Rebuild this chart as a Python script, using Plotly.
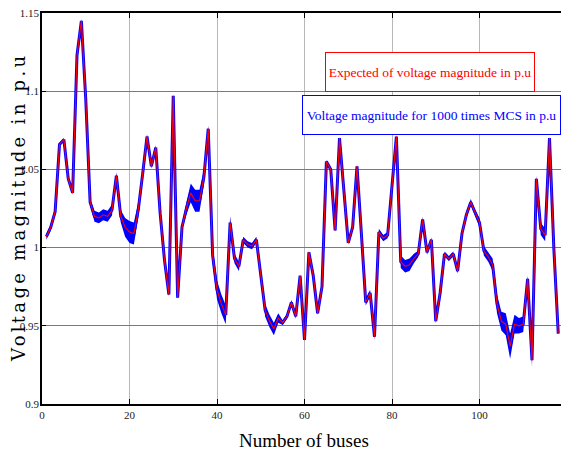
import plotly.graph_objects as go

# ---------------- data ----------------
buses = list(range(1, 119))

expected = [
    1.007, 1.013, 1.023, 1.066, 1.069, 1.044, 1.035, 1.123, 1.145, 1.095,   # 1-10
    1.029, 1.020, 1.019, 1.021, 1.020, 1.024, 1.046, 1.020, 1.013, 1.010,   # 11-20
    1.009, 1.024, 1.047, 1.071, 1.052, 1.064, 1.022, 0.992, 0.970, 1.097,   # 21-30
    0.968, 1.013, 1.025, 1.035, 1.030, 1.030, 1.045, 1.076, 0.995, 0.973,   # 31-40
    0.964, 0.957, 1.016, 0.993, 0.988, 1.005, 1.002, 1.001, 1.005, 0.984,   # 41-50
    0.960, 0.953, 0.948, 0.955, 0.952, 0.956, 0.965, 0.956, 0.982, 0.941,   # 51-60
    0.997, 0.982, 0.958, 0.975, 1.055, 1.050, 1.011, 1.070, 1.039, 1.003,   # 61-70
    1.013, 1.052, 1.009, 0.965, 0.971, 0.943, 1.010, 1.006, 1.008, 1.040,   # 71-80
    1.071, 0.991, 0.988, 0.989, 0.993, 0.996, 1.018, 0.997, 1.005, 0.953,   # 81-90
    0.971, 0.996, 0.993, 0.996, 0.985, 1.009, 1.021, 1.029, 1.022, 1.016,   # 91-100
    0.998, 0.994, 0.989, 0.964, 0.953, 0.951, 0.937, 0.951, 0.950, 0.951,   # 101-110
    0.980, 0.928, 1.044, 1.012, 1.008, 1.070, 0.999, 0.945,                 # 111-118
]

# half-width of the 1000-run Monte Carlo band around the expected value
spread = [
    0.002, 0.002, 0.002, 0.001, 0.001, 0.001, 0.001, 0.001, 0.001, 0.001,
    0.002, 0.0035, 0.0035, 0.0035, 0.0035, 0.0035, 0.002, 0.004, 0.006, 0.007,
    0.007, 0.005, 0.0015, 0.0015, 0.0015, 0.0015, 0.0015, 0.0015, 0.0015, 0.0015,
    0.0015, 0.0015, 0.004, 0.006, 0.007, 0.007, 0.005, 0.002, 0.005, 0.006,
    0.006, 0.006, 0.004, 0.003, 0.003, 0.002, 0.002, 0.002, 0.002, 0.002,
    0.004, 0.004, 0.004, 0.003, 0.0015, 0.0015, 0.0015, 0.0015, 0.001, 0.001,
    0.001, 0.001, 0.001, 0.001, 0.001, 0.001, 0.001, 0.001, 0.001, 0.001,
    0.001, 0.001, 0.001, 0.002, 0.002, 0.002, 0.002, 0.002, 0.002, 0.001,
    0.001, 0.004, 0.004, 0.004, 0.003, 0.002, 0.0015, 0.0015, 0.0015, 0.0015,
    0.0015, 0.0015, 0.0015, 0.0015, 0.0015, 0.0015, 0.002, 0.002, 0.002, 0.003,
    0.003, 0.003, 0.004, 0.006, 0.006, 0.007, 0.008, 0.006, 0.005, 0.005,
    0.002, 0.004, 0.002, 0.004, 0.004, 0.001, 0.001, 0.001,
]

x_ticks = [0, 20, 40, 60, 80, 100, 120]
y_ticks = [0.9, 0.95, 1.0, 1.05, 1.1, 1.15]
y_tick_text = ["0.9", "0.95", "1", "1.05", "1.1", "1.15"]

label_expected = "Expected of voltage magnitude in p.u"
label_mcs = "Voltage magnitude for 1000 times MCS in p.u"
x_title = "Number of buses"
y_title = "Voltage magnitude in p.u"

# ---------------- figure ----------------
mcs_low = [e - s for e, s in zip(expected, spread)]
mcs_high = [e + s for e, s in zip(expected, spread)]

BLUE = "#0000ff"
RED = "#ff0000"

fig = go.Figure()
fig.add_trace(go.Scatter(x=buses, y=mcs_low, mode="lines",
                         line=dict(width=0, color=BLUE), showlegend=False,
                         hoverinfo="skip"))
fig.add_trace(go.Scatter(x=buses, y=mcs_high, mode="lines", fill="tonexty",
                         fillcolor=BLUE, line=dict(width=0, color=BLUE),
                         showlegend=False, hoverinfo="skip"))
fig.add_trace(go.Scatter(x=buses, y=expected, mode="lines",
                         line=dict(width=3, color=BLUE), showlegend=False))
fig.add_trace(go.Scatter(x=buses, y=expected, mode="lines",
                         line=dict(width=1.1, color=RED), showlegend=False))

# the page body adds an 8 px offset; positions below are page pixels
OFF = 8
L, R, T, B = 42 - OFF, 567 - OFF, 13 - OFF, 404 - OFF
W, H = 569 - OFF, 459 - OFF


def px_to_paper(px, py):
    return (px - OFF - L) / (R - L), (B - (py - OFF)) / (B - T)


tick_font = dict(family="Liberation Serif", size=11, color="#222222")

fig.update_layout(
    width=W, height=H,
    margin=dict(l=L, r=W - R, t=T, b=H - B, pad=0),
    paper_bgcolor="white", plot_bgcolor="white",
    showlegend=False,
    xaxis=dict(range=[0, 120], tickvals=x_ticks, ticktext=[str(v) for v in x_ticks],
               showgrid=True, gridcolor="#b8b8b8", gridwidth=1,
               zeroline=False, showline=True, linecolor="black", linewidth=2,
               mirror="ticks", ticks="inside", ticklen=5, tickcolor="black",
               tickfont=tick_font, automargin=False),
    yaxis=dict(range=[0.9, 1.15], tickvals=y_ticks, ticktext=y_tick_text,
               showgrid=True, gridcolor="#7a7a7a", gridwidth=1,
               zeroline=False, showline=True, linecolor="black", linewidth=1.5,
               mirror="ticks", ticks="inside", ticklen=4, tickcolor="black",
               tickfont=tick_font, automargin=False, ticklabelstandoff=-1,
               ticklabeloverflow="allow"),
)

ax1, ay1 = px_to_paper(430, 72)
ax2, ay2 = px_to_paper(431.5, 115)
fig.add_annotation(x=ax1, y=ay1, xref="paper", yref="paper", text=label_expected,
                   xanchor="center", yanchor="middle",
                   showarrow=False, width=206, height=36, bgcolor="white",
                   bordercolor=RED, borderwidth=1, borderpad=1,
                   font=dict(family="Liberation Serif", size=13.5, color=RED))
fig.add_annotation(x=ax2, y=ay2, xref="paper", yref="paper", text=label_mcs,
                   xanchor="center", yanchor="middle",
                   showarrow=False, width=255, height=36, bgcolor="white",
                   bordercolor=BLUE, borderwidth=1, borderpad=1,
                   font=dict(family="Liberation Serif", size=13.5, color=BLUE))

tx, ty = px_to_paper(304, 440)
fig.add_annotation(x=tx, y=ty, xref="paper", yref="paper", text=x_title,
                   xanchor="center", yanchor="middle", showarrow=False,
                   font=dict(family="Liberation Serif", size=19, color="black"))
yx, yy = px_to_paper(18, 208)
fig.add_annotation(x=yx, y=yy, xref="paper", yref="paper",
                   text='<span style="letter-spacing:3.3px">' + y_title + "</span>",
                   xanchor="center", yanchor="middle", showarrow=False, textangle=-90,
                   font=dict(family="DejaVu Serif", size=18, color="black"))

fig.write_html("out.html")
